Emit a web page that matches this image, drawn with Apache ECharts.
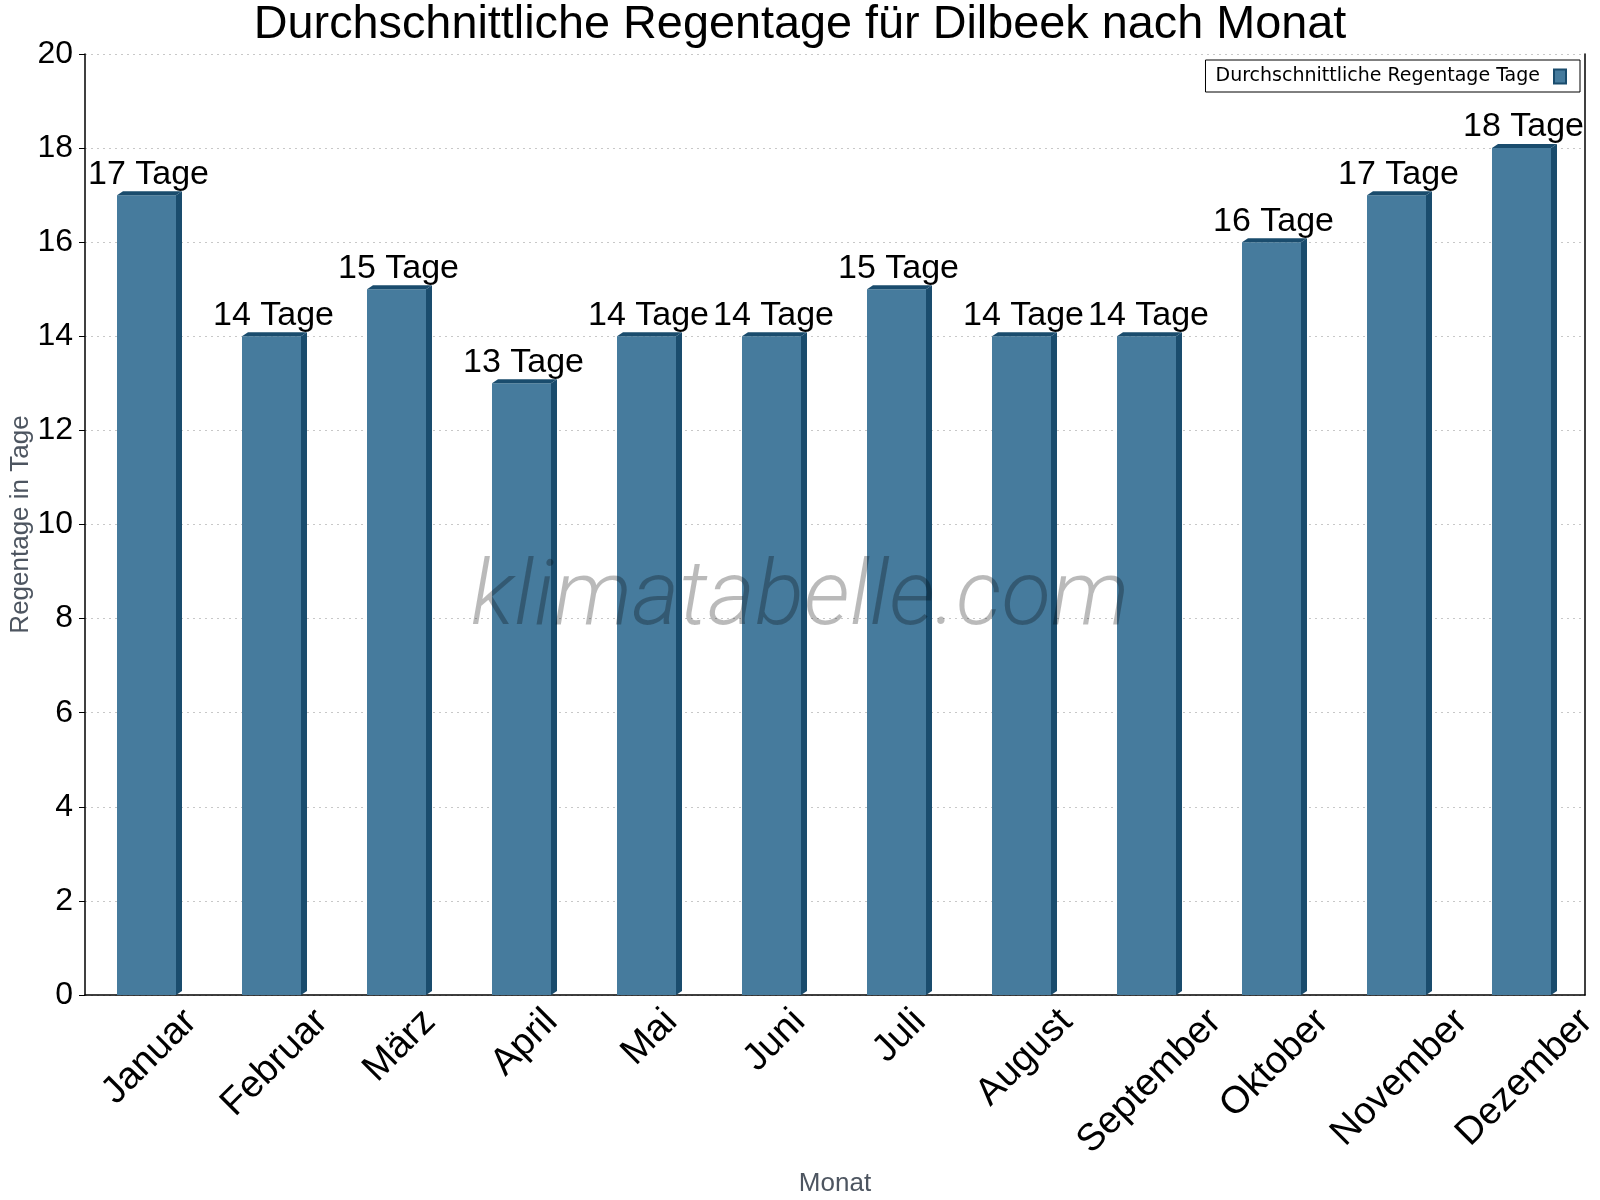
<!DOCTYPE html>
<html>
<head>
    <meta charset="utf-8">
    <title>Regentage Dilbeek</title>
    <script src="https://cdn.jsdelivr.net/npm/echarts@6/dist/echarts.min.js"></script>
    <style>
        html, body { margin: 0; padding: 0; background: #fff; }
        #chart { width: 1600px; height: 1200px; }
    </style>
</head>
<body>
<div id="chart"></div>
<script>
    // Daten
    var MONTHS = ['Januar', 'Februar', 'März', 'April', 'Mai', 'Juni',
        'Juli', 'August', 'September', 'Oktober', 'November', 'Dezember'];
    var RAIN_DAYS = [17, 14, 15, 13, 14, 14, 15, 14, 14, 16, 17, 18];
    var SERIES_NAME = 'Durchschnittliche Regentage Tage';
    var UNIT = 'Tage';

    var FRONT = '#467b9d';
    var DARK = '#1a4c6d';
    var FONT = 'Liberation Sans, Arial, sans-serif';
    var XLABEL_SIZE = 38;
    var XLABEL_LH = 42;

    var chart = echarts.init(document.getElementById('chart'));

    // gedrehte Monatsnamen: Mitte unter der Kategorie, oberes Ende knapp unter der Achse
    var ctx = document.createElement('canvas').getContext('2d');
    ctx.font = XLABEL_SIZE + 'px "Liberation Sans"';
    var monthItems = MONTHS.map(function (m) {
        var len = ctx.measureText(m).width;
        var b = (23 + 0.354 * len) / 1.414;
        return {
            value: m,
            textStyle: {
                align: 'center',
                verticalAlign: 'top',
                lineHeight: XLABEL_LH,
                padding: [Math.max(0, b - XLABEL_LH / 2), 2 * b - 6, 0, 0]
            }
        };
    });

    // Säule mit kleinem 3D-Effekt (Vorderseite, rechte Seite, Deckel) + Beschriftung
    function renderBar(params, api) {
        var idx = api.value(0);
        var val = api.value(1);
        var base = api.coord([idx, 0]);
        var top = api.coord([idx, val]);
        var w = api.size([1, 0])[0] * 0.472;
        var left = top[0] - w / 2 - 1;
        var right = left + w;
        var dx = 6, dy = 4;
        return {
            type: 'group',
            children: [
                {
                    type: 'rect',
                    shape: {x: left, y: top[1], width: w, height: base[1] - top[1]},
                    style: {fill: FRONT}
                },
                {
                    type: 'polygon',
                    shape: {points: [[right, top[1]], [right + dx, top[1] - dy], [right + dx, base[1] - dy], [right, base[1]]]},
                    style: {fill: DARK}
                },
                {
                    type: 'polygon',
                    shape: {points: [[left, top[1]], [left + dx, top[1] - dy], [right + dx, top[1] - dy], [right, top[1]]]},
                    style: {fill: DARK}
                },
                {
                    type: 'text',
                    x: top[0] + 1,
                    y: top[1] - dy,
                    style: {
                        text: val + ' ' + UNIT,
                        fill: '#000',
                        font: '34px ' + FONT,
                        align: 'center',
                        verticalAlign: 'bottom'
                    }
                }
            ]
        };
    }

    var option = {
        backgroundColor: '#fff',
        animation: false,
        title: {
            text: 'Durchschnittliche Regentage für Dilbeek nach Monat',
            left: 'center',
            top: 2,
            padding: 0,
            textStyle: {fontFamily: FONT, fontSize: 46.8, fontWeight: 'normal', color: '#000'}
        },
        legend: {
            data: [SERIES_NAME],
            right: 20,
            top: 60,
            align: 'right',
            icon: 'rect',
            itemWidth: 12,
            itemHeight: 14,
            padding: [7, 13, 6, 10],
            borderColor: '#000',
            borderWidth: 1,
            backgroundColor: '#fff',
            textStyle: {fontFamily: 'DejaVu Sans', fontSize: 19, color: '#000', padding: [0, 9, 0, 0]}
        },
        grid: {left: 85, right: 15, top: 54, bottom: 205, outerBoundsMode: 'none', containLabel: false},
        xAxis: {
            type: 'category',
            data: monthItems,
            boundaryGap: true,
            name: 'Monat',
            nameLocation: 'middle',
            nameGap: 176,
            nameMoveOverlap: false,
            nameTextStyle: {fontFamily: FONT, fontSize: 26, color: '#4d5560'},
            axisLine: {lineStyle: {color: '#000', width: 1.5}},
            axisTick: {length: 6, lineStyle: {color: '#000'}},
            axisLabel: {
                interval: 0,
                rotate: 45,
                margin: 0,
                hideOverlap: false,
                fontFamily: FONT,
                fontSize: XLABEL_SIZE,
                color: '#000'
            },
            splitLine: {show: false}
        },
        yAxis: [
            {
                type: 'value',
                min: 0,
                max: 20,
                interval: 2,
                name: 'Regentage in Tage',
                nameLocation: 'middle',
                nameGap: 51,
                nameMoveOverlap: false,
                nameTextStyle: {fontFamily: FONT, fontSize: 26, color: '#4d5560'},
                axisLine: {show: true, lineStyle: {color: '#000', width: 1.5}},
                axisTick: {show: true, length: 6, lineStyle: {color: '#000'}},
                axisLabel: {fontFamily: FONT, fontSize: 32, color: '#000', margin: 12},
                splitLine: {lineStyle: {color: '#c8c8c8', type: [2, 4]}}
            },
            {
                type: 'value',
                position: 'right',
                min: 0,
                max: 20,
                axisLine: {show: true, lineStyle: {color: '#000', width: 1.5}},
                axisTick: {show: false},
                axisLabel: {show: false},
                splitLine: {show: false}
            }
        ],
        graphic: [
            {
                type: 'text',
                x: 800,
                y: 601,
                z: 100,
                silent: true,
                style: {
                    text: 'klimatabelle.com',
                    font: 'italic 300 91px Roboto, sans-serif',
                    fill: 'rgba(0,0,0,0.27)',
                    align: 'center',
                    verticalAlign: 'middle'
                }
            }
        ],
        series: [
            {
                name: SERIES_NAME,
                type: 'custom',
                xAxisIndex: 0,
                yAxisIndex: 0,
                itemStyle: {color: FRONT, borderColor: DARK, borderWidth: 1.5},
                renderItem: renderBar,
                data: RAIN_DAYS.map(function (v, i) { return [i, v]; })
            }
        ]
    };

    chart.setOption(option);
</script>
</body>
</html>
